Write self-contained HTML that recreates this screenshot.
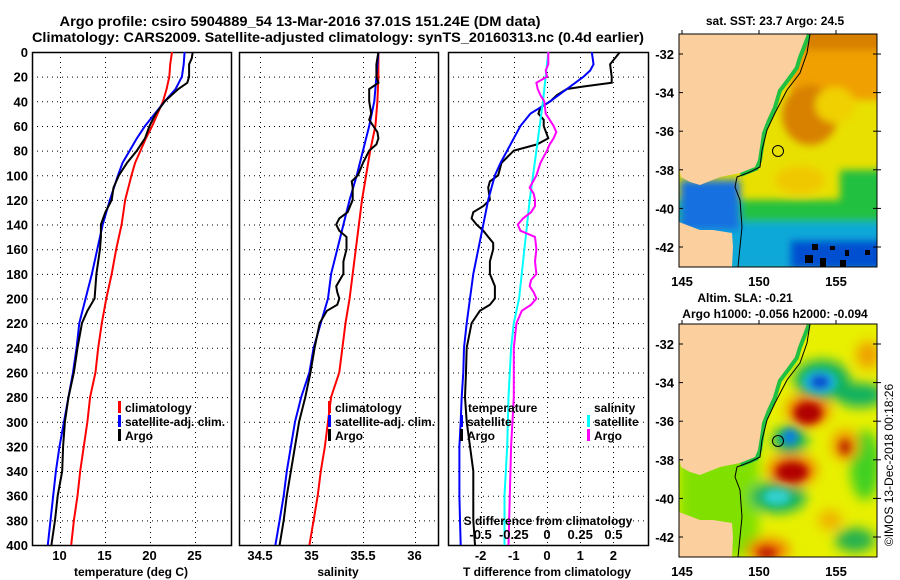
<!DOCTYPE html>
<html><head><meta charset="utf-8"><style>
html,body{margin:0;padding:0;background:#fff;}
svg{display:block;font-family:"Liberation Sans",sans-serif;font-weight:bold;}
</style></head><body>
<svg id="fig" width="900" height="580" viewBox="0 0 900 580" xmlns="http://www.w3.org/2000/svg">
<g font-size="14" text-anchor="middle">
<text x="300" y="26" textLength="481" lengthAdjust="spacingAndGlyphs">Argo profile: csiro 5904889_54 13-Mar-2016 37.01S 151.24E (DM data)</text>
<text x="338" y="42" textLength="612" lengthAdjust="spacingAndGlyphs">Climatology: CARS2009. Satellite-adjusted climatology: synTS_20160313.nc (0.4d earlier)</text>
</g>
<g id="panels"></g>
<g id="maps">
<defs>
<clipPath id="clipTop"><rect x="679" y="34" width="198" height="233"/></clipPath>
<clipPath id="clipBot"><rect x="679" y="324" width="198" height="233"/></clipPath>
<filter id="blur4"><feGaussianBlur stdDeviation="4"/></filter>
<filter id="blur6"><feGaussianBlur stdDeviation="6"/></filter>
</defs>
<text x="775" y="25" font-size="12" text-anchor="middle">sat. SST: 23.7 Argo: 24.5</text>
<g clip-path="url(#clipTop)">
<rect x="679" y="34" width="198" height="233" fill="#e8e000"/>
<g filter="url(#blur4)">
<rect x="790" y="20" width="100" height="80" fill="#f0a000"/>
<ellipse cx="810" cy="115" rx="28" ry="30" fill="#d88000"/>
<rect x="800" y="20" width="90" height="30" fill="#d88000"/>
<ellipse cx="835" cy="105" rx="20" ry="18" fill="#f0d000"/>
<ellipse cx="800" cy="180" rx="25" ry="14" fill="#f0c800"/>
<rect x="670" y="200" width="220" height="30" fill="#20c040"/>
<rect x="840" y="170" width="50" height="40" fill="#20c040"/>
<rect x="670" y="222" width="220" height="50" fill="#10a8d8"/>
<rect x="680" y="180" width="60" height="50" fill="#1870e0"/>
<rect x="790" y="240" width="100" height="30" fill="#0050d0"/>
</g>
<g fill="#000"><rect x="812" y="244" width="6" height="6"/><rect x="830" y="246" width="5" height="4"/><rect x="845" y="250" width="4" height="6"/><rect x="865" y="250" width="5" height="5"/><rect x="805" y="255" width="8" height="8"/><rect x="820" y="258" width="6" height="9"/><rect x="840" y="260" width="6" height="7"/></g>
<path d="M807,34 L798,57 L795,67 L787,78 L778,90 L773,107 L767,120 L762,133 L760,147 L758,160 L755,167 L740,173" fill="none" stroke="#20c040" stroke-width="8"/>
<path class="land" d="M679,34 L807,34 L798,57 L795,67 L787,78 L778,90 L773,107 L767,120 L762,133 L760,147 L758,160 L755,167 L740,173 L720,177 L700,185 L690,182 L681,177 L679,167 Z" fill="#fccf9e"/>
<path class="land" d="M679,222 L700,230 L713,230 L732,233 L733,247 L732,267 L679,267 Z" fill="#fccf9e"/>
<path d="M810,34 L807,53 L800,73 L787,90 L775,113 L767,130 L762,150 L760,167 L750,172 L737,177 L735,187 L740,200 L742,227 L738,267" fill="none" stroke="#000" stroke-width="1"/>
<circle cx="778" cy="151" r="5.5" fill="none" stroke="#000" stroke-width="1"/>
</g>
<rect x="679" y="34" width="198" height="233" fill="none" stroke="#000" stroke-width="1"/>

<text x="745" y="302" font-size="12" text-anchor="middle">Altim. SLA: -0.21</text>
<text x="775" y="318" font-size="12" text-anchor="middle">Argo h1000: -0.056 h2000: -0.094</text>
<g clip-path="url(#clipBot)">
<rect x="679" y="324" width="198" height="233" fill="#e8f000"/>
<g filter="url(#blur6)">
<rect x="679" y="324" width="80" height="233" fill="#80e000"/>
<ellipse cx="822" cy="380" rx="28" ry="20" fill="#10b060"/>
<ellipse cx="860" cy="395" rx="25" ry="12" fill="#10b060"/>
<ellipse cx="790" cy="440" rx="18" ry="14" fill="#10b060"/>
<ellipse cx="778" cy="497" rx="28" ry="16" fill="#10b060"/>
<ellipse cx="865" cy="465" rx="15" ry="35" fill="#40d020"/>
<ellipse cx="855" cy="540" rx="20" ry="12" fill="#20b050"/>
<ellipse cx="808" cy="410" rx="22" ry="16" fill="#f08000"/>
<ellipse cx="792" cy="470" rx="25" ry="16" fill="#f08000"/>
<ellipse cx="845" cy="445" rx="14" ry="16" fill="#f0a000"/>
<ellipse cx="868" cy="355" rx="12" ry="14" fill="#f0a000"/>
<ellipse cx="768" cy="550" rx="22" ry="12" fill="#f08000"/>
<ellipse cx="830" cy="520" rx="12" ry="10" fill="#f0b000"/>
</g>
<g filter="url(#blur4)">
<ellipse cx="820" cy="382" rx="17" ry="12" fill="#20c0e0"/>
<ellipse cx="820" cy="382" rx="11" ry="8" fill="#1050d0"/>
<ellipse cx="790" cy="437" rx="8" ry="8" fill="#1080e0"/>
<ellipse cx="777" cy="497" rx="14" ry="8" fill="#30d0d0"/>
<ellipse cx="808" cy="413" rx="14" ry="11" fill="#b00000"/>
<ellipse cx="792" cy="472" rx="16" ry="10" fill="#b00000"/>
<ellipse cx="845" cy="447" rx="6" ry="8" fill="#c03000"/>
<ellipse cx="767" cy="553" rx="10" ry="6" fill="#c02000"/>
</g>
<path d="M807,324 L798,347 L795,357 L787,368 L778,380 L773,397 L767,410 L762,423 L760,437 L758,450 L755,457 L740,463" fill="none" stroke="#20c040" stroke-width="8"/>
<path d="M679,324 L807,324 L798,347 L795,357 L787,368 L778,380 L773,397 L767,410 L762,423 L760,437 L758,450 L755,457 L740,463 L720,467 L700,475 L690,472 L681,467 L679,457 Z" fill="#fccf9e"/>
<path d="M679,512 L700,520 L713,520 L732,523 L733,537 L732,557 L679,557 Z" fill="#fccf9e"/>
<path d="M810,324 L807,343 L800,363 L787,380 L775,403 L767,420 L762,440 L760,457 L750,462 L737,467 L735,477 L740,490 L742,517 L738,557" fill="none" stroke="#000" stroke-width="1"/>
<circle cx="778" cy="441" r="5.5" fill="none" stroke="#000" stroke-width="1"/>
</g>
<rect x="679" y="324" width="198" height="233" fill="none" stroke="#000" stroke-width="1"/>
<text transform="translate(893,465) rotate(-90)" font-size="12" font-weight="normal" text-anchor="middle">©IMOS 13-Dec-2018 00:18:26</text>
</g>
<g id="mapaxes"></g>
</svg>
<script>
// ---- profile data (depth in m) ----
const depthsClimT = [0,10,20,30,40,50,60,70,80,90,100,120,140,160,180,200,220,240,260,280,300,320,340,360,380,400];
const tempClim = [22.5,22.3,22.2,21.9,21.5,20.9,20.3,19.6,19.0,18.4,18.0,17.3,16.9,16.3,15.8,15.2,14.7,14.3,14.0,13.4,13.1,12.7,12.3,12.0,11.6,11.3];
const depthsSatT = [0,10,20,30,40,50,60,70,80,90,100,120,140,160,180,200,220,240,260,280,300,320,340,360,380,400];
const tempSat = [23.9,23.8,23.6,22.9,21.7,20.6,19.5,18.6,17.8,17.0,16.5,15.6,14.8,14.2,13.6,12.9,12.2,11.9,11.5,11.0,10.5,10.0,9.6,9.3,9.0,8.7];
const depthsArgoT = [0,5,10,20,25,30,40,50,60,70,80,90,100,110,120,130,140,150,160,170,180,190,200,210,220,240,260,280,300,320,340,360,380,400];
const tempArgo = [24.8,24.7,24.4,24.4,24.2,23.2,21.7,20.7,20.0,19.5,18.6,17.5,16.6,16.0,15.8,15.1,14.6,14.6,14.5,14.3,14.1,14.0,13.9,13.1,12.5,12.0,11.6,11.0,10.6,10.4,10.3,9.8,9.5,9.1];

const depthsClimS = [0,20,40,60,80,100,120,140,160,180,200,220,240,260,280,300,320,340,360,380,400];
const salClim = [35.65,35.65,35.64,35.62,35.57,35.53,35.49,35.46,35.43,35.40,35.37,35.33,35.30,35.27,35.19,35.16,35.13,35.09,35.06,35.02,34.98];
const salSat = [35.65,35.63,35.61,35.56,35.50,35.44,35.37,35.31,35.25,35.19,35.16,35.09,35.02,34.98,34.90,34.84,34.80,34.76,34.73,34.69,34.65];
const depthsArgoS = [0,10,20,25,30,40,50,55,60,65,70,75,80,90,100,105,110,120,130,135,140,145,150,160,170,180,190,195,200,205,210,220,240,260,280,300,320,340,360,380,400];
const salArgo = [35.65,35.63,35.63,35.65,35.56,35.56,35.58,35.56,35.60,35.64,35.65,35.63,35.56,35.50,35.45,35.39,35.40,35.40,35.35,35.27,35.24,35.27,35.34,35.34,35.31,35.31,35.24,35.25,35.27,35.25,35.15,35.08,35.03,34.99,34.94,34.88,34.84,34.80,34.76,34.73,34.69];

const depthsTdiffArgo = [0,10,20,25,28,30,35,40,45,50,55,60,70,75,80,90,100,105,110,120,125,130,135,140,145,150,155,160,170,180,190,195,200,205,210,220,240,260,280,300,320,340,360,380,400];
const tdiffArgo = [2.2,1.9,1.95,1.95,1.1,0.6,0.3,0.1,-0.2,-0.26,-0.1,-0.1,0.04,-0.3,-1.0,-1.37,-1.47,-1.72,-1.77,-1.72,-1.92,-2.22,-2.27,-2.12,-1.92,-1.77,-1.62,-1.62,-1.72,-1.72,-1.57,-1.57,-1.57,-1.72,-2.02,-2.27,-2.42,-2.44,-2.47,-2.42,-2.32,-2.22,-2.22,-2.22,-2.17];
const depthsTdiffSat = [0,10,15,20,30,40,50,60,70,80,90,100,120,140,160,180,200,220,240,260,280,300,320,340,360,380,400];
const tdiffSat = [1.35,1.4,1.3,1.1,0.6,0.1,-0.5,-0.8,-1.0,-1.2,-1.4,-1.57,-1.77,-1.92,-2.07,-2.22,-2.32,-2.42,-2.5,-2.52,-2.57,-2.6,-2.64,-2.64,-2.64,-2.62,-2.6];
const depthsSdiffSat = [0,40,80,120,160,200,220,240,280,320,360,400];
const sdiffSat = [0.01,-0.03,-0.08,-0.13,-0.17,-0.21,-0.25,-0.27,-0.29,-0.30,-0.32,-0.32];
const depthsSdiffArgo = [0,10,15,20,25,30,35,40,50,55,60,65,70,75,80,90,100,110,115,120,125,130,135,140,145,150,160,170,180,185,190,195,200,205,210,220,240,280,320,360,400];
const sdiffArgo = [0.01,0.01,-0.01,0,-0.08,-0.07,-0.05,-0.02,-0.01,0.02,0.05,0.07,0.05,0.02,0,-0.05,-0.08,-0.13,-0.10,-0.09,-0.09,-0.12,-0.18,-0.22,-0.20,-0.09,-0.08,-0.09,-0.08,-0.12,-0.13,-0.10,-0.08,-0.12,-0.19,-0.23,-0.25,-0.25,-0.27,-0.28,-0.29];

const depthTicks = [0,20,40,60,80,100,120,140,160,180,200,220,240,260,280,300,320,340,360,380,400];
const tempTicks = [10,15,20,25];
const salTicks = [34.5,35,35.5,36];
const tdiffTicks = [-2,-1,0,1,2];
const sdiffTicks = [-0.5,-0.25,0,0.25,0.5];
const sdiffTickLabels = ["-0.5","-0.25","0","0.25","0.5"];

// ---- axis functions ----
const TOP = 52, BOT = 545;
function yD(d){ return TOP + d * (BOT - TOP) / 400; }
function xT(t){ return 59.5 + (t - 10) * 9; }
function xS(s){ return 311.5 + (s - 35) * 103; }
function xTd(d){ return 547 + d * 33.2; }
function xSd(s){ return xTd(s * 4); }

const NS = "http://www.w3.org/2000/svg";
const root = document.getElementById("panels");
function mk(tag, attrs, parent){
  const e = document.createElementNS(NS, tag);
  for (const k in attrs) e.setAttribute(k, attrs[k]);
  (parent || root).appendChild(e);
  return e;
}
function txt(x, y, s, anchor, size, parent){
  const t = mk("text", {x:x, y:y, "text-anchor":anchor, "font-size":size}, parent);
  t.textContent = s;
  return t;
}

const panels = [
  {name:"temperature-panel", x0:32, x1:231, ticks:tempTicks, fx:xT},
  {name:"salinity-panel", x0:239, x1:438, ticks:salTicks, fx:xS},
  {name:"difference-panel", x0:448, x1:648, ticks:tdiffTicks, fx:xTd}
];
panels.forEach((p, i) => {
  const g = mk("g", {});
  
  
  const cp = mk("clipPath", {id:"cp" + i}, g);
  mk("rect", {x:p.x0, y:TOP, width:p.x1 - p.x0, height:BOT - TOP}, cp);
  const grid = mk("g", {stroke:"#000", "stroke-width":1, "stroke-dasharray":"1,4"}, g);
  
  
  depthTicks.slice(1, -1).forEach(d => mk("line", {x1:p.x0, x2:p.x1, y1:yD(d)+0.5, y2:yD(d)+0.5}, grid));
  p.ticks.forEach(t => mk("line", {x1:Math.round(p.fx(t))+0.5, x2:Math.round(p.fx(t))+0.5, y1:TOP, y2:BOT}, grid));
  const fr = mk("rect", {x:p.x0+0.5, y:TOP+0.5, width:p.x1 - p.x0, height:BOT - TOP, fill:"none", stroke:"#000", "stroke-width":1.5}, g);
  
  
  p.g = g;
});

// y-axis labels
const yl = mk("g", {});


depthTicks.forEach(d => txt(28, yD(d) + 5, String(d), "end", 13, yl));

// x-axis labels
function xlabels(ticks, labels, fx, y, name){
  const g = mk("g", {});
  
  
  ticks.forEach((t, i) => txt(fx(t), y, labels[i], "middle", 13, g));
}
xlabels(tempTicks, tempTicks.map(String), xT, 560, "temperature-axis-labels");
xlabels(salTicks, salTicks.map(String), xS, 560, "salinity-axis-labels");
xlabels(tdiffTicks, tdiffTicks.map(String), xTd, 560, "t-difference-axis-labels");
xlabels(sdiffTicks, sdiffTickLabels, xSd, 539, "s-difference-axis-labels");
let t;
t = txt(131, 576, "temperature (deg C)", "middle", 12);  
t = txt(338, 576, "salinity", "middle", 12);  
t = txt(547, 576, "T difference from climatology", "middle", 12);  
t = txt(548, 525, "S difference from climatology", "middle", 12);  

// series
function series(panelIdx, depths, vals, fx, color, name){
  const pts = depths.map((d, i) => fx(vals[i]).toFixed(1) + "," + yD(d).toFixed(1)).join(" ");
  const pl = mk("polyline", {points:pts, fill:"none", stroke:color, "stroke-width":2, "clip-path":"url(#cp" + panelIdx + ")"}, panels[panelIdx].g);
  
  
}
series(0, depthsClimT, tempClim, xT, "#ff0000", "temperature-climatology-line");
series(0, depthsSatT, tempSat, xT, "#0000ff", "temperature-satellite-line");
series(0, depthsArgoT, tempArgo, xT, "#000000", "temperature-argo-line");
series(1, depthsClimS, salClim, xS, "#ff0000", "salinity-climatology-line");
series(1, depthsClimS, salSat, xS, "#0000ff", "salinity-satellite-line");
series(1, depthsArgoS, salArgo, xS, "#000000", "salinity-argo-line");
series(2, depthsTdiffArgo, tdiffArgo, xTd, "#000000", "t-difference-argo-line");
series(2, depthsTdiffSat, tdiffSat, xTd, "#0000ff", "t-difference-satellite-line");
series(2, depthsSdiffSat, sdiffSat, xSd, "#00ffff", "s-difference-satellite-line");
series(2, depthsSdiffArgo, sdiffArgo, xSd, "#ff00ff", "s-difference-argo-line");

// legends
function legendEntry(mx, tx, y, color, label, name){
  const g = mk("g", {});
  
  
  if (color) mk("rect", {x:mx, y:y - 11, width:3, height:12, fill:color}, g);
  txt(tx, y, label, "start", 12, g);
}
legendEntry(118, 125, 412, "#ff0000", "climatology", "legend-entry-climatology");
legendEntry(118, 125, 426, "#0000ff", "satellite-adj. clim.", "legend-entry-satellite");
legendEntry(118, 125, 440, "#000000", "Argo", "legend-entry-argo");
legendEntry(328, 335, 412, "#ff0000", "climatology", "legend-entry-climatology-sal");
legendEntry(328, 335, 426, "#0000ff", "satellite-adj. clim.", "legend-entry-satellite-sal");
legendEntry(328, 335, 440, "#000000", "Argo", "legend-entry-argo-sal");
legendEntry(0, 468, 412, null, "temperature", "legend-title-temperature");
legendEntry(460, 467, 426, "#0000ff", "satellite", "legend-entry-t-satellite");
legendEntry(460, 467, 440, "#000000", "Argo", "legend-entry-t-argo");
legendEntry(0, 594, 412, null, "salinity", "legend-title-salinity");
legendEntry(587, 594, 426, "#00ffff", "satellite", "legend-entry-s-satellite");
legendEntry(587, 594, 440, "#ff00ff", "Argo", "legend-entry-s-argo");

// map axes
const mapLats = [-32,-34,-36,-38,-40,-42];
const mapLons = [145,150,155];
function latY(lat){ return 54 + (-32 - lat) * 19.3; }
function lonX(lon){ return 682 + (lon - 145) * 15.4; }
const ma = document.getElementById("mapaxes");
[0, 290].forEach((off, k) => {
  const g = mk("g", {}, ma);
  
  
  mapLats.forEach(l => {
    txt(674, latY(l) + off + 5, String(l), "end", 13, g);
    mk("line", {x1:679, x2:683, y1:latY(l)+off, y2:latY(l)+off, stroke:"#000"}, g);
    mk("line", {x1:873, x2:881, y1:latY(l)+off, y2:latY(l)+off, stroke:"#000"}, g);
  });
  mapLons.forEach(l => {
    txt(lonX(l), 286 + off, String(l), "middle", 13, g);
    mk("line", {x1:lonX(l), x2:lonX(l), y1:30+off, y2:34+off, stroke:"#000"}, g);
  });
});
</script>
</body></html>
